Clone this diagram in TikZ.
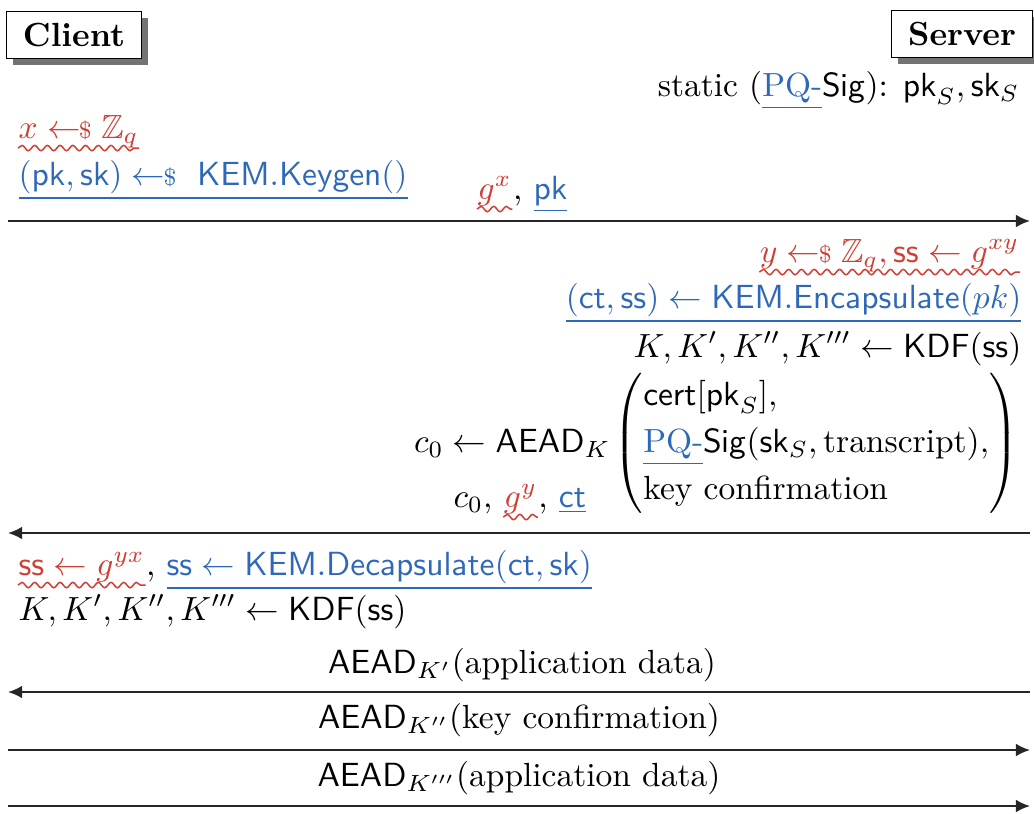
\documentclass[tikz,border=0pt]{standalone}
\usepackage{amsmath,amssymb}
\usetikzlibrary{shadows,arrows.meta,decorations.pathmorphing}

\definecolor{ecred}{RGB}{208,62,52}
\definecolor{kemblue}{RGB}{46,104,184}

\newcommand{\rnd}{\mathrel{\leftarrow\!\!{\scriptstyle\$}}}
\newcommand{\pq}[1]{\textcolor{kemblue}{\underline{#1}}}

\tikzset{
  party/.style={draw, fill=white, font=\bfseries, inner xsep=5pt,
    minimum height=14pt, drop shadow={shadow xshift=2pt, shadow yshift=-2pt,
    fill=black!55, opacity=1}},
  txt/.style={inner sep=0pt},
  ecdh/.style={inner sep=0pt, text=ecred},
  wave/.style={ecred, line width=0.45pt, decorate,
    decoration={snake, segment length=3.8pt, amplitude=0.8pt}},
  msg/.style={line width=0.6pt, black!85, -{Latex[length=4.2pt,width=3.8pt]}}
}

\begin{document}
\begin{tikzpicture}[x=0.0105cm, y=-0.0105cm]
  \useasboundingbox (0,0) rectangle (1034,813);

  % parties
  \node[party] (client) at (74,35) {Client};
  \node[party] (server) at (962,34) {Server};
  \node[txt, anchor=base east] (static) at (1020,96)
    {static (\pq{PQ-}\textsf{Sig}): $\mathsf{pk}_S, \mathsf{sk}_S$};

  % client, first flight
  \node[ecdh, anchor=base west] (cgen) at (18,138) {$x \rnd \mathbb{Z}_q$};
  \node[txt, anchor=base west] (ckem) at (18,185)
    {\pq{$(\mathsf{pk}, \mathsf{sk}) \rnd \ \mathsf{KEM.Keygen}()$}};
  \node[ecdh, anchor=base west] (gx) at (477,199) {$g^x$};
  \node[txt, anchor=base west] (m1) at (gx.base east) {, \pq{$\mathsf{pk}$}};

  % server
  \node[ecdh, anchor=base east] (sgen) at (1020,262)
    {$y \rnd \mathbb{Z}_q, \mathsf{ss} \leftarrow g^{xy}$};
  \node[txt, anchor=base east] (senc) at (1022,308)
    {\pq{$(\mathsf{ct}, \mathsf{ss}) \leftarrow \mathsf{KEM.Encapsulate}(pk)$}};
  \node[txt, anchor=base east] (skdf) at (1022,357)
    {$K, K', K'', K''' \leftarrow \mathsf{KDF}(\mathsf{ss})$};
  \node[txt, anchor=east] (body) at (1019,443)
    {$\left(\def\arraystretch{1.18}\begin{array}{@{}l@{}}
       \mathsf{cert}[\mathsf{pk}_S],\\
       \text{\pq{PQ-}\textsf{Sig}}(\mathsf{sk}_S, \text{transcript}),\\
       \text{key confirmation}
     \end{array}\right)$};
  \node[txt, anchor=east] (saead) at (611,443) {$c_0 \leftarrow \mathsf{AEAD}_K$};
  \node[txt, anchor=base west] (c0) at (453,507) {$c_0$,};
  \node[ecdh, anchor=base west] (gy) at ([xshift=3pt]c0.base east) {$g^y$};
  \node[txt, anchor=base west] (m2) at (gy.base east) {, \pq{$\mathsf{ct}$}};

  % client, after reply
  \node[ecdh, anchor=base west] (cdh) at (18,575) {$\mathsf{ss} \leftarrow g^{yx}$};
  \node[txt, anchor=base west] (cdec) at (cdh.base east)
    {, \pq{$\mathsf{ss} \leftarrow \mathsf{KEM.Decapsulate}(\mathsf{ct}, \mathsf{sk})$}};
  \node[txt, anchor=base west] (ckdf) at (18,620)
    {$K, K', K'', K''' \leftarrow \mathsf{KDF}(\mathsf{ss})$};

  % application messages
  \node[txt, anchor=base] (m3) at (522,673) {$\mathsf{AEAD}_{K'}$(application data)};
  \node[txt, anchor=base] (m4) at (519,728) {$\mathsf{AEAD}_{K''}$(key confirmation)};
  \node[txt, anchor=base] (m5) at (519,786) {$\mathsf{AEAD}_{K'''}$(application data)};

  % wavy underlines
  \foreach \n in {cgen, gx, sgen, gy, cdh}
    \draw[wave] ([yshift=-3pt]\n.base west) -- ([yshift=-3pt]\n.base east);

  % message lines
  \foreach \i/\y in {1/221, 2/533, 3/692, 4/750, 5/806} {
    \coordinate (cl\i) at (8,\y);
    \coordinate (sv\i) at (1030,\y);
  }
  \draw[msg] (cl1) -- (sv1);
  \draw[msg] (sv2) -- (cl2);
  \draw[msg] (sv3) -- (cl3);
  \draw[msg] (cl4) -- (sv4);
  \draw[msg] (cl5) -- (sv5);
\end{tikzpicture}
\end{document}
